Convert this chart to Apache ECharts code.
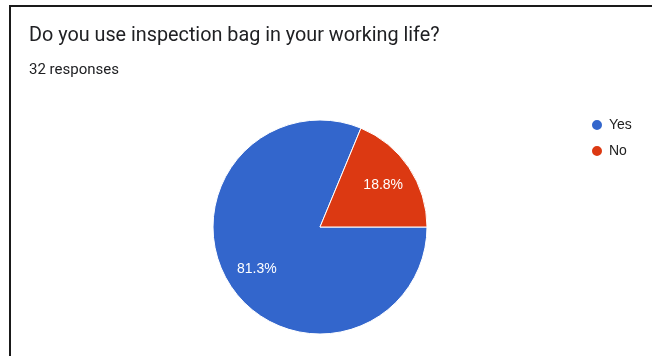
<!DOCTYPE html>
<html>
<head>
<meta charset="utf-8">
<script src="https://cdn.jsdelivr.net/npm/echarts@6/dist/echarts.min.js"></script>
<style>
  html, body { margin: 0; padding: 0; background: #fff; }
  #frame {
    position: absolute; left: 9px; top: 5px; width: 643px; height: 349px;
    border-top: 2px solid #1a1a1a; border-left: 2px solid #1a1a1a;
    border-bottom: 1px solid #d0d0d0;
  }
  #chart { position: absolute; left: 0; top: 0; width: 652px; height: 356px; }
</style>
</head>
<body>
<div id="frame"></div>
<div id="chart"></div>
<script>
// Survey question and answer counts
const question = 'Do you use inspection bag in your working life?';
const responsesText = '32 responses';
const categories = ['Yes', 'No'];
const counts = [26, 6];
const colors = ['#3366cc', '#dc3912'];

const pieData = categories.map((name, i) => ({
  name: name,
  value: counts[i],
  itemStyle: { color: colors[i] }
}));

const chart = echarts.init(document.getElementById('chart'), null, { renderer: 'canvas' });

chart.setOption({
  animation: false,
  backgroundColor: 'transparent',
  title: [
    {
      text: question,
      left: 29, top: 26, padding: 0,
      textStyle: { fontFamily: 'Roboto', fontSize: 19.8, fontWeight: 'normal', color: '#202124' }
    },
    {
      text: responsesText,
      left: 29, top: 63, padding: 0,
      textStyle: { fontFamily: 'Roboto', fontSize: 15, fontWeight: 'normal', color: '#202124' }
    }
  ],
  legend: {
    orient: 'vertical',
    left: 590, top: 118, padding: 0,
    icon: 'circle',
    itemWidth: 12, itemHeight: 12, itemGap: 12,
    data: categories,
    textStyle: { fontFamily: 'Liberation Sans', fontSize: 14, color: '#222', padding: [0, 0, 0, 1] }
  },
  series: [
    {
      type: 'pie',
      center: [320, 227],
      radius: [0, 107],
      startAngle: 0,
      clockwise: true,
      data: pieData,
      label: { show: false },
      labelLine: { show: false },
      itemStyle: { borderColor: '#fff', borderWidth: 1 },
      emphasis: { disabled: true }
    },
    {
      // transparent ring carrying the percentage labels further out than mid-radius
      type: 'pie',
      center: [320, 227],
      radius: [40, 106],
      startAngle: 0,
      clockwise: true,
      silent: true,
      legendHoverLink: false,
      data: categories.map((name, i) => ({ name: name, value: counts[i] })),
      itemStyle: { color: 'rgba(0,0,0,0)' },
      label: {
        show: true,
        position: 'inside',
        formatter: p => p.percent.toFixed(1) + '%',
        fontFamily: 'Liberation Sans',
        fontSize: 14,
        color: '#fff'
      },
      labelLine: { show: false },
      emphasis: { disabled: true }
    }
  ]
});
</script>
</body>
</html>
